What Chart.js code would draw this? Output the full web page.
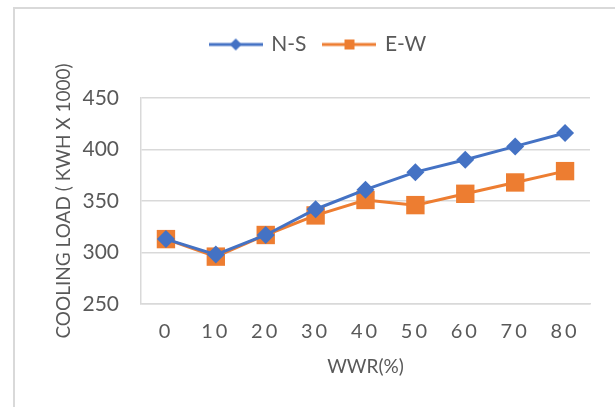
<!DOCTYPE html>
<html>
<head>
<meta charset="utf-8">
<script src="https://cdn.jsdelivr.net/npm/chart.js@4.4.1/dist/chart.umd.min.js"></script>
<style>
  html, body { margin: 0; padding: 0; background: #fff; }
  #wrap { position: relative; width: 615px; height: 407px; overflow: hidden; }
  #frame { position: absolute; left: 13px; top: 7px; width: 640px; height: 440px; border: 2px solid #d9d9d9; box-sizing: border-box; }
  canvas { position: absolute; left: 0; top: 0; }
</style>
</head>
<body>
<div id="wrap">
  <div id="frame"></div>
  <canvas id="chart" width="615" height="407"></canvas>
</div>
<script>
// values
var wwr = ['0', '10', '20', '30', '40', '50', '60', '70', '80'];
var northSouth = [313, 298, 317, 342, 361, 378, 390, 403, 416];
var eastWest = [313, 296, 317, 336, 351, 346, 357, 368, 379];
var yTicks = [250, 300, 350, 400, 450];

var blue = '#4472C4';
var orange = '#ED7D31';
var grey = '#595959';
var gridGrey = '#d9d9d9';

// small legend swatch: line with the marker in the middle
function legendSwatch(color, style) {
    var c = document.createElement('canvas');
    c.width = 54;
    c.height = 14;
    var g = c.getContext('2d');
    g.strokeStyle = color;
    g.lineWidth = 3;
    g.beginPath();
    g.moveTo(0, 7);
    g.lineTo(54, 7);
    g.stroke();
    g.fillStyle = color;
    if (style === 'diamond') {
        g.beginPath();
        g.moveTo(27, 1);
        g.lineTo(33, 7);
        g.lineTo(27, 13);
        g.lineTo(21, 7);
        g.closePath();
        g.fill();
    } else {
        g.fillRect(22, 2, 10, 10);
    }
    return c;
}

// extra room under the legend + spaced x tick labels
var tweaks = {
    id: 'tweaks',
    beforeLayout: function(chart) {
        var lg = chart.legend;
        if (lg && !lg._padded) {
            var fit = lg.fit;
            lg.fit = function() {
                fit.call(this);
                this.height += 33;
            };
            lg._padded = true;
        }
    },
    afterLayout: function(chart) {
        var sc = chart.scales.x;
        if (sc._spaced) return;
        var base = Object.getPrototypeOf(sc).drawLabels;
        sc.drawLabels = function(area) {
            var ctx = this.ctx;
            ctx.save();
            ctx.letterSpacing = '3px';
            base.call(this, area);
            ctx.restore();
        };
        sc._spaced = true;
    }
};

var ctx = document.getElementById('chart').getContext('2d');
var chart = new Chart(ctx, {
    type: 'line',
    data: {
        labels: wwr,
        datasets: [
            {
                label: 'N-S',
                data: northSouth,
                borderColor: blue,
                backgroundColor: blue,
                borderWidth: 3,
                pointStyle: 'rectRot',
                pointRadius: 9,
                pointBorderWidth: 0,
                tension: 0
            },
            {
                label: 'E-W',
                data: eastWest,
                borderColor: orange,
                backgroundColor: orange,
                borderWidth: 3,
                pointStyle: 'rect',
                pointRadius: 13,
                pointBorderWidth: 0,
                tension: 0
            }
        ]
    },
    options: {
        responsive: false,
        animation: false,
        layout: { padding: { left: 47, right: 25, top: 16, bottom: 29 } },
        plugins: {
            tooltip: { enabled: false },
            legend: {
                position: 'top',
                labels: {
                    usePointStyle: true,
                    pointStyleWidth: 50,
                    boxHeight: 14,
                    padding: 18,
                    color: grey,
                    font: { family: 'Lato', size: 21 },
                    generateLabels: function(ch) {
                        return ch.data.datasets.map(function(ds, i) {
                            return {
                                text: ds.label,
                                fontColor: grey,
                                pointStyle: legendSwatch(ds.borderColor, i === 0 ? 'diamond' : 'square'),
                                lineWidth: 0,
                                strokeStyle: 'transparent',
                                fillStyle: 'transparent',
                                datasetIndex: i
                            };
                        });
                    }
                }
            }
        },
        scales: {
            x: {
                offset: true,
                afterFit: function(sc) { sc.height = 74; },
                grid: { display: false, drawTicks: false },
                border: { display: true, color: gridGrey, width: 1.5 },
                ticks: { color: grey, padding: 16, font: { family: 'Lato', size: 20 } },
                title: {
                    display: true,
                    text: 'WWR(%)',
                    color: grey,
                    padding: 0,
                    font: { family: 'Lato', size: 19 }
                }
            },
            y: {
                min: 250,
                max: 450,
                afterBuildTicks: function(sc) {
                    sc.ticks = yTicks.map(function(v) { return { value: v }; });
                },
                afterFit: function(sc) { sc.width = 94; },
                grid: { color: gridGrey, lineWidth: 1.5, drawTicks: false },
                border: { display: true, color: gridGrey, width: 1.5 },
                ticks: { color: grey, padding: 22, font: { family: 'Lato', size: 21 } },
                title: {
                    display: true,
                    text: 'COOLING LOAD ( KWH X 1000)',
                    color: grey,
                    padding: { top: 5, bottom: 0 },
                    font: { family: 'Lato', size: 19 }
                }
            }
        }
    },
    plugins: [tweaks]
});
</script>
</body>
</html>
